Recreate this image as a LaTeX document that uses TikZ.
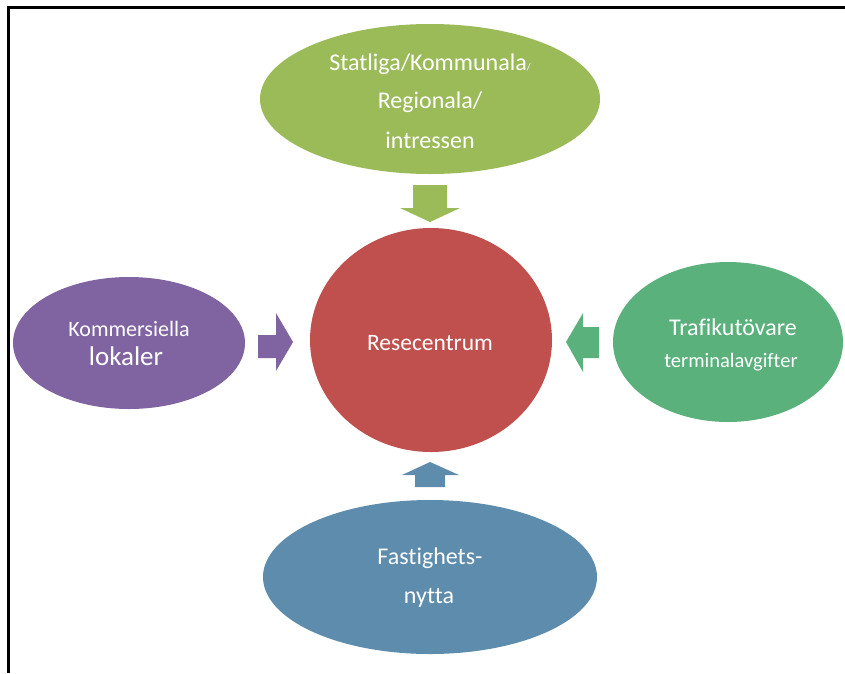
\documentclass[tikz,border=0pt]{standalone}
\usepackage{fontspec}
\setmainfont{Carlito}[Ligatures={NoCommon}]
\definecolor{cTop}{HTML}{9BBB59}
\definecolor{cRed}{HTML}{C0504D}
\definecolor{cPur}{HTML}{8064A2}
\definecolor{cGrn}{HTML}{5BB17C}
\definecolor{cBlu}{HTML}{5E8CAD}
\begin{document}
\begin{tikzpicture}[x=1pt,y=-1pt,
  lbl/.style={text=white, inner sep=0pt, anchor=center}]
\useasboundingbox (0,0) rectangle (845,673);
% frame
\draw[line width=3pt] (8,673) -- (8,7) -- (845,7);
% ellipses
\fill[cTop] (430,99) ellipse [x radius=170, y radius=75];
\fill[cRed] (431,340) ellipse [x radius=121, y radius=112];
\fill[cPur] (129,343) ellipse [x radius=116, y radius=66];
\fill[cGrn] (728,342) ellipse [x radius=115, y radius=80];
\fill[cBlu] (430,577) ellipse [x radius=167, y radius=77];
% block arrows
\fill[cTop] (413,185) -- (447,185) -- (447,208) -- (460,208) -- (430,222) -- (400,208) -- (413,208) -- cycle;
\fill[cBlu] (415,487) -- (445,487) -- (445,475) -- (459,475) -- (430,462) -- (402,475) -- (415,475) -- cycle;
\fill[cPur] (258,335) -- (276,335) -- (276,313) -- (293,342) -- (276,371) -- (276,358) -- (258,358) -- cycle;
\fill[cGrn] (599,327) -- (583,327) -- (583,313) -- (566,342) -- (583,372) -- (583,358) -- (599,358) -- cycle;
% texts
\node[lbl, font=\fontsize{24}{24}\selectfont] (t1) at (430,64) {Statliga/Kommunala{\fontsize{10}{10}\selectfont /}};
\node[lbl, font=\fontsize{24}{24}\selectfont] (t2) at (430,102) {Regionala/};
\node[lbl, font=\fontsize{24}{24}\selectfont] (t3) at (430,140) {intressen};
\node[lbl, font=\fontsize{23.5}{23.5}\selectfont] (rc) at (430,343) {Resecentrum};
\node[lbl, font=\fontsize{22}{22}\selectfont] (k1) at (129,329) {Kommersiella};
\node[lbl, font=\fontsize{27}{27}\selectfont] (k2) at (126,356) {lokaler};
\node[lbl, font=\fontsize{24}{24}\selectfont] (r1) at (733,327) {Trafikutövare};
\node[lbl, font=\fontsize{20.5}{20.5}\selectfont] (r2) at (731,362) {terminalavgifter};
\node[lbl, font=\fontsize{24}{24}\selectfont] (b1) at (430,558) {Fastighets-};
\node[lbl, font=\fontsize{24}{24}\selectfont] (b2) at (429,598) {nytta};
\end{tikzpicture}
\end{document}
